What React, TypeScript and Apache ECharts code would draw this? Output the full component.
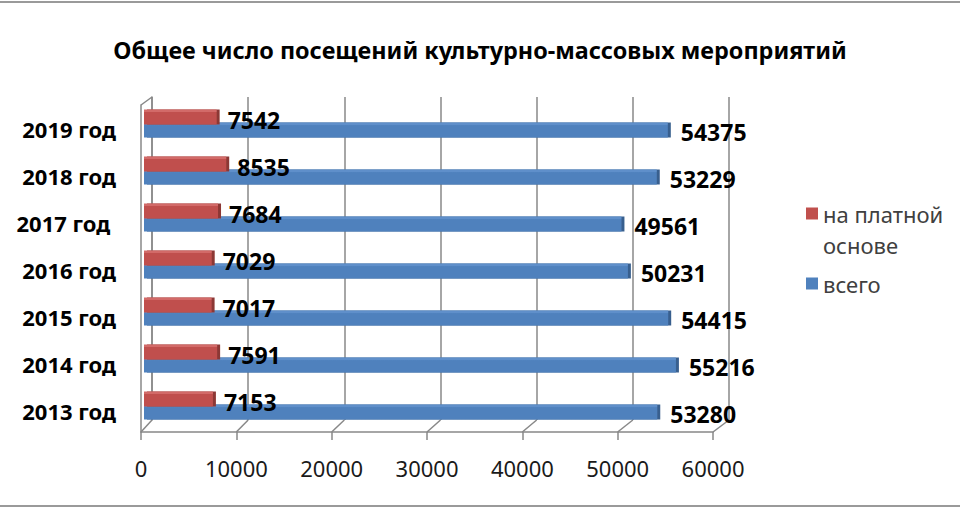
import { useEffect, useRef } from 'react';
import * as echarts from 'echarts';

const titleText = 'Общее число посещений культурно-массовых мероприятий';
const categories = ['2013 год', '2014 год', '2015 год', '2016 год', '2017 год ', '2018 год', '2019 год'];
const paidName = 'на платной основе';
const totalName = 'всего';
const paidValues = [7153, 7591, 7017, 7029, 7684, 8535, 7542];
const totalValues = [53280, 55216, 54415, 50231, 49561, 53229, 54375];
const axisTicks = [0, 10000, 20000, 30000, 40000, 50000, 60000];

const FONT = 'Noto Sans';
const GRID_COLOR = '#888888';
const RED = '#c0504d';
const BLUE = '#4f81bd';

const faceGradient = (top: string, front: string) =>
  new echarts.graphic.LinearGradient(0, 0, 0, 1, [
    { offset: 0, color: top },
    { offset: 0.18, color: top },
    { offset: 0.2, color: front },
    { offset: 1, color: front },
  ]);

const plainIcon = (color: string) => ({
  color,
  borderWidth: 0,
  shadowColor: 'transparent',
  shadowBlur: 0,
  shadowOffsetX: 0,
  shadowOffsetY: 0,
});

export default function App() {
  const ref = useRef<HTMLDivElement>(null);

  useEffect(() => {
    if (!ref.current) return;
    const chart = echarts.init(ref.current, null, { renderer: 'svg' });
    const axisMax = axisTicks[axisTicks.length - 1];
    const step = axisTicks[1] - axisTicks[0];

    chart.setOption({
      animation: false,
      backgroundColor: '#ffffff',
      textStyle: { fontFamily: FONT },
      title: {
        text: titleText,
        left: 'center',
        top: 33,
        textStyle: { fontFamily: FONT, fontSize: 23.4, fontWeight: 'bold', color: '#000' },
      },
      legend: [
        {
          data: [{ name: paidName, itemStyle: plainIcon(RED) }],
          orient: 'vertical',
          left: 806,
          top: 167,
          padding: 0,
          icon: 'rect',
          itemWidth: 12,
          itemHeight: 12,
          itemStyle: plainIcon(RED),
          formatter: () => '\nна платной\nоснове',
          textStyle: { fontFamily: FONT, fontSize: 22, color: '#404040', lineHeight: 31 },
        },
        {
          data: [{ name: totalName, itemStyle: plainIcon(BLUE) }],
          orient: 'vertical',
          left: 806,
          top: 268,
          padding: 0,
          icon: 'rect',
          itemWidth: 12,
          itemHeight: 12,
          itemStyle: plainIcon(BLUE),
          textStyle: { fontFamily: FONT, fontSize: 22, color: '#404040', lineHeight: 31 },
        },
      ],
      grid: [
        { left: 144, top: 100, width: 578, height: 329 },
        { left: 152, top: 97, width: 577, height: 323 },
        { left: 141, top: 105, width: 572, height: 327 },
        { left: 144, top: 105, width: 578, height: 329 },
      ],
      xAxis: [
        { type: 'value', gridIndex: 0, min: 0, max: axisMax, interval: step, show: false },
        {
          type: 'value', gridIndex: 1, min: 0, max: axisMax, interval: step,
          axisLine: { show: false }, axisTick: { show: false }, axisLabel: { show: false },
          splitLine: { show: true, lineStyle: { color: GRID_COLOR, width: 1.5 } },
        },
        {
          type: 'value', gridIndex: 2, min: 0, max: axisMax, interval: step,
          axisLine: { show: true, lineStyle: { color: GRID_COLOR, width: 1.5 } },
          axisTick: { show: true, length: 8, lineStyle: { color: GRID_COLOR, width: 1.5 } },
          axisLabel: {
            show: true, margin: 25, fontFamily: FONT, fontSize: 22, color: '#1a1a1a',
            formatter: (v: number) => String(v),
          },
          splitLine: { show: false },
        },
        { type: 'value', gridIndex: 3, min: 0, max: axisMax, interval: step, show: false },
      ],
      yAxis: [
        {
          type: 'category', gridIndex: 0, data: categories,
          axisLine: { show: false }, axisTick: { show: false }, axisLabel: { show: false },
        },
        {
          type: 'value', gridIndex: 1, min: 0, max: 1,
          axisLine: { show: true, lineStyle: { color: GRID_COLOR, width: 1.5 } },
          axisTick: { show: false }, axisLabel: { show: false }, splitLine: { show: false },
        },
        {
          type: 'value', gridIndex: 2, min: 0, max: 1,
          axisLine: { show: true, lineStyle: { color: GRID_COLOR, width: 1.5 } },
          axisTick: { show: false }, axisLabel: { show: false }, splitLine: { show: false },
        },
        {
          type: 'category', gridIndex: 3, data: categories,
          axisLine: { show: false }, axisTick: { show: false }, splitLine: { show: false },
          axisLabel: { margin: 28, fontFamily: FONT, fontSize: 22, fontWeight: 'bold', color: '#000' },
        },
      ],
      series: [
        {
          name: paidName,
          type: 'bar',
          xAxisIndex: 0,
          yAxisIndex: 0,
          data: paidValues,
          barWidth: 15,
          barGap: '-13%',
          z: 4,
          itemStyle: {
            color: faceGradient('#d26a67', RED),
            shadowColor: '#8c3836', shadowOffsetX: 3, shadowOffsetY: 0, shadowBlur: 0,
          },
          label: {
            show: true, position: 'right', distance: 11, offset: [0, 3],
            fontFamily: FONT, fontSize: 23, fontWeight: 'bold', color: '#000',
          },
        },
        {
          name: totalName,
          type: 'bar',
          xAxisIndex: 0,
          yAxisIndex: 0,
          data: totalValues,
          barWidth: 15,
          z: 3,
          itemStyle: {
            color: faceGradient('#5f8fca', BLUE),
            shadowColor: '#375e8e', shadowOffsetX: 3, shadowOffsetY: 0, shadowBlur: 0,
          },
          label: {
            show: true, position: 'right', distance: 13, offset: [0, 2],
            fontFamily: FONT, fontSize: 23, fontWeight: 'bold', color: '#000',
          },
        },
      ],
    });

    // 3D-style connectors between the front floor and the back wall, positioned by the axes
    const graphics: any[] = [];
    axisTicks.forEach((v) => {
      const back = chart.convertToPixel({ gridIndex: 1 }, [v, 0]) as number[];
      const front = chart.convertToPixel({ gridIndex: 2 }, [v, 0]) as number[];
      graphics.push({
        type: 'line',
        shape: { x1: front[0], y1: front[1], x2: back[0], y2: back[1] },
        style: { stroke: GRID_COLOR, lineWidth: 1.5 },
        z: 1,
      });
    });
    const backTop = chart.convertToPixel({ gridIndex: 1 }, [0, 1]) as number[];
    const frontTop = chart.convertToPixel({ gridIndex: 2 }, [0, 1]) as number[];
    graphics.push({
      type: 'line',
      shape: { x1: frontTop[0], y1: frontTop[1], x2: backTop[0], y2: backTop[1] },
      style: { stroke: GRID_COLOR, lineWidth: 1.5 },
      z: 1,
    });
    graphics.push({
      type: 'rect',
      shape: { x: -4, y: 2, width: 968, height: 504 },
      style: { fill: 'none', stroke: '#9a9a9a', lineWidth: 2 },
      z: 0,
      silent: true,
    });
    chart.setOption({ graphic: graphics });

    return () => chart.dispose();
  }, []);

  return (
    <div
      ref={ref}
      style={{ position: 'fixed', left: 0, top: 0, width: 960, height: 510 }}
    />
  );
}
